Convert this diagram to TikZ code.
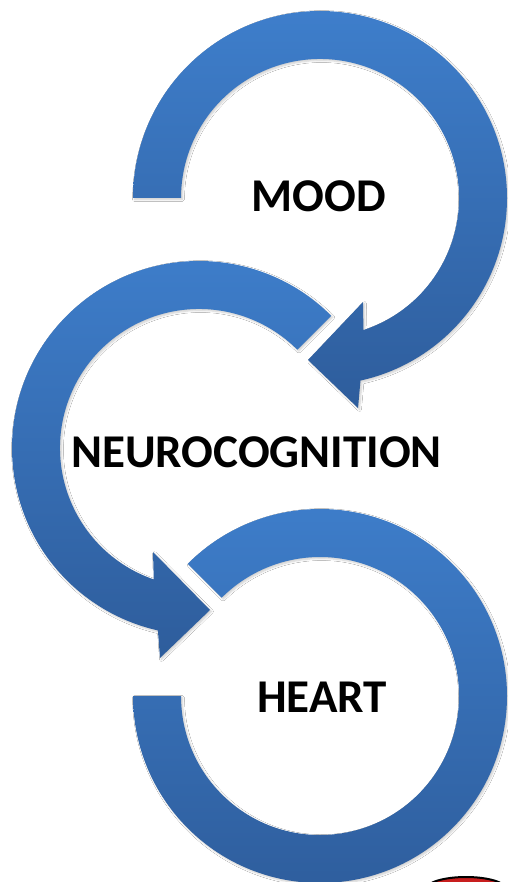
\documentclass[tikz,border=0pt]{standalone}
\usepackage{fontspec}
\setmainfont{Carlito}
\usetikzlibrary{calc,shadows.blur}
\definecolor{bluetop}{RGB}{62,126,203}
\definecolor{bluebot}{RGB}{46,93,156}
\definecolor{logored}{RGB}{200,30,30}
\begin{document}
\begin{tikzpicture}[x=1pt,y=1pt,
  band/.style={top color=bluetop, bottom color=bluebot, draw=none,
    blur shadow={shadow xshift=1.5pt,shadow yshift=-1.5pt,shadow blur steps=6,shadow opacity=20}},
  lbl/.style={font=\bfseries\fontsize{47}{56}\selectfont, anchor=base, inner sep=0pt}]
\clip (0,0) rectangle (508,-882);
\fill[white] (0,0) rectangle (508,-882);
\coordinate (c1) at (320,-198);
\coordinate (c2) at (199,-448);
\coordinate (c3) at (320,-696);
% arrow into neurocognition (mood loop)
\path[band] ($(c1)+(180:187)$) arc[start angle=180,end angle=-77.5,radius=187]
  -- (358,-408) -- (308,-360) -- (363,-302) -- ($(c1)+(-71.8:139)$)
  arc[start angle=-71.8,end angle=180,radius=139] -- cycle;
% neurocognition loop
\path[band] ($(c2)+(45:187)$) arc[start angle=45,end angle=257.3,radius=187]
  -- (160,-658) -- (210,-610) -- (153,-552) -- ($(c2)+(251:139)$)
  arc[start angle=251,end angle=45,radius=139] -- cycle;
% heart loop
\path[band] ($(c3)+(135:187)$) arc[start angle=135,end angle=-180,radius=187]
  -- ($(c3)+(180:139)$) arc[start angle=-180,end angle=135,radius=139] -- cycle;
% cut-off logo
\draw[black, line width=2pt, fill=logored] (466,-889) ellipse[x radius=40, y radius=12];
\node[lbl] (mood) at (319,-212) {MOOD};
\node[lbl] (neuro) at (256.5,-467) {NEUROCOGNITION};
\node[lbl] (heart) at (322,-712) {HEART};
\end{tikzpicture}
\end{document}
